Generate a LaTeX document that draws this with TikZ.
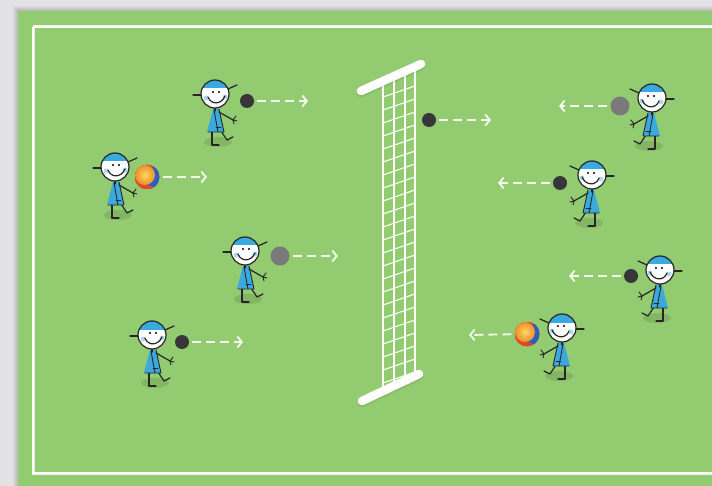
\documentclass[tikz,border=0pt]{standalone}
\usetikzlibrary{arrows.meta}
\definecolor{pagegray}{RGB}{226,226,228}
\definecolor{fieldgreen}{RGB}{146,203,112}
\definecolor{shirtblue}{RGB}{58,170,222}
\definecolor{cheekblue}{RGB}{175,215,238}
\definecolor{balldark}{RGB}{55,55,58}
\definecolor{ballgray}{RGB}{122,122,124}
\definecolor{ballred}{RGB}{226,72,40}
\definecolor{ballblue}{RGB}{45,95,190}
\definecolor{ballorange}{RGB}{240,140,45}
\definecolor{ballyellow}{RGB}{250,218,95}
\begin{document}
\begin{tikzpicture}[x=1pt,y=-1pt,
  ink/.style={draw=black!85, line width=1.2pt, line cap=round, line join=round},
  mesh/.style={draw=white, line width=1.1pt},
  netbar/.style={draw=white, line width=8.5pt, line cap=round},
  flight/.style={draw=white, draw opacity=0.9, line width=1.8pt, dash pattern=on 9pt off 5pt,
    -{Straight Barb[length=4.5pt,width=11pt,line width=1.8pt]}, shorten <=3pt},
  darkball/.style={circle, fill=balldark, minimum size=14pt, inner sep=0pt},
  grayball/.style={circle, fill=ballgray, minimum size=19pt, inner sep=0pt},
  beachball/.style={circle, minimum size=25pt, inner sep=0pt, path picture={
    \fill[ballred] (path picture bounding box.south west) rectangle (path picture bounding box.north east);
    \fill[ballblue] ([shift={(7,0)}]path picture bounding box.center) circle (10);
    \shade[inner color=ballyellow, outer color=ballorange]
      ([shift={(-2,-2)}]path picture bounding box.center) circle (10);
  }},
  kid/.pic={
    % shadow on the grass
    \fill[black, opacity=0.10] (3,48) ellipse [x radius=14, y radius=5];
    % legs
    \draw[ink] (-3,37) -- (-3,51) -- (4,51);
    \draw[ink] (6,37) -- (12,46) -- (18,43);
    % shirt
    \fill[shirtblue] (-2,15) -- (4,15) -- (9,38) -- (-8,38) -- cycle;
    \draw[ink, line width=0.9pt] (4,15) -- (9,38) -- (-7,38);
    \draw[ink, line width=0.9pt] (-1,16) -- (3,38);
    \draw[ink, line width=0.9pt] (1,33) -- (6,33);
    % neck
    \draw[ink] (0,13) -- (0,17);
    % arm and hand
    \draw[ink] (4,18) -- (18,26);
    \draw[ink, line width=0.9pt] (18,26) -- (21,22) (18,26) -- (22,27) (18,26) -- (19,30);
    % head with cap
    \fill[white] (0,0) circle (14);
    \begin{scope}
      \clip (0,0) circle (14);
      \fill[shirtblue] (-15,-15) rectangle (15,-5.5);
      \fill[cheekblue] (-9,4) circle (2.5) (10,3) circle (2.5);
    \end{scope}
    \draw[ink] (0,0) circle (14);
    \draw[ink] (13,-5) -- (22,-9);
    \draw[ink] (-22,1) -- (-14,1);
    \fill[black] (-2,-2) circle (1.2) (4,-2) circle (1.2);
    \draw[ink] (-7,3) .. controls (-4,11) and (6,11) .. (10,2);
  }]
\useasboundingbox (0,0) rectangle (712,486);

% page and field
\fill[pagegray] (0,0) rectangle (712,486);
\foreach \k in {1,...,5} {
  \fill[black, opacity=0.035] (18-\k,11-\k) rectangle (712,486);
}
\fill[fieldgreen] (18,11) rectangle (712,486);
\draw[white!80!fieldgreen, line width=3pt] (33,27) -- (740,27) (33,27) -- (33,473) -- (740,473);
\draw[white, line width=1.6pt] (33,27) -- (740,27) (33,27) -- (33,473) -- (740,473);

% net
\foreach \x in {383,394,405,415} {
  \pgfmathsetmacro\ytop{93-0.463*(\x-358)}
  \pgfmathsetmacro\ybot{403-0.477*(\x-358)}
  \draw[mesh] (\x,\ytop) -- (\x,\ybot);
}
\foreach \k in {0,...,22} {
  \pgfmathsetmacro\yl{97+13*\k}
  \draw[mesh] (383,\yl) -- (415,\yl-11);
}
\draw[netbar, draw=black, draw opacity=0.08] (361,93) -- (421,66);
\draw[netbar] (361,91) -- (421,64);
\draw[netbar, draw=black, draw opacity=0.08] (362,403) -- (419,376);
\draw[netbar] (362,401) -- (419,374);

% players on the left, facing the net
\pic at (215,94) {kid};
\pic at (115,167) {kid};
\pic at (245,251) {kid};
\pic at (152,335) {kid};
% players on the right, facing the net
\pic[xscale=-1] at (652,98) {kid};
\pic[xscale=-1] at (592,175) {kid};
\pic[xscale=-1] at (660,270) {kid};
\pic[xscale=-1] at (562,328) {kid};

% balls
\node[darkball] (b1) at (247,101) {};
\node[beachball] (b2) at (147,177) {};
\node[grayball] (b3) at (280,256) {};
\node[darkball] (b4) at (182,342) {};
\node[grayball] (b5) at (620,106) {};
\node[darkball] (b6) at (560,183) {};
\node[darkball] (b7) at (631,276) {};
\node[beachball] (b8) at (527,334) {};
\node[darkball] (b9) at (429,120) {};

% flight paths
\coordinate (e1) at (308,101);
\coordinate (e2) at (207,177);
\coordinate (e3) at (338,256);
\coordinate (e4) at (243,342);
\coordinate (e5) at (559,106);
\coordinate (e6) at (498,183);
\coordinate (e7) at (569,276);
\coordinate (e8) at (469,335);
\coordinate (e9) at (491,120);
\foreach \i in {1,...,9} {
  \draw[flight] (b\i) -- (e\i);
}
\end{tikzpicture}
\end{document}
